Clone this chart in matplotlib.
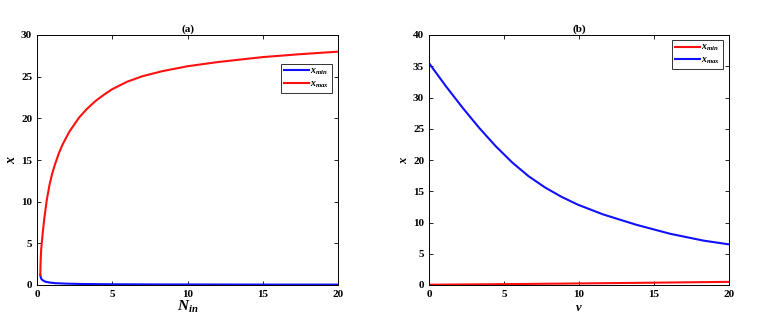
import matplotlib
matplotlib.use("Agg")
import matplotlib.pyplot as plt
import numpy as np

plt.rcParams['font.family'] = 'Liberation Serif'
plt.rcParams['mathtext.fontset'] = 'custom'
plt.rcParams['mathtext.it'] = 'Liberation Serif:italic:bold'
plt.rcParams['mathtext.rm'] = 'Liberation Serif:bold'

# Panel (a): x_min / x_max vs N_in
n_in_max = [0.22, 0.23, 0.25, 0.28, 0.33, 0.4, 0.5, 0.65, 0.83, 1.0, 1.2, 1.45, 1.71, 2.15, 2.8,
            3.3, 3.9, 4.5, 5.0, 6.0, 7.0, 8.3, 10.0, 12.0, 15.0, 17.5, 20.0]
xmax_a = [1.2, 2.2, 3.3, 4.3, 5.3, 6.6, 8.2, 10.2, 12.0, 13.3, 14.5, 15.8, 16.9, 18.4, 20.1,
          21.1, 22.1, 22.9, 23.5, 24.4, 25.05, 25.65, 26.25, 26.75, 27.35, 27.7, 28.0]
n_in_min = [0.22, 0.25, 0.3, 0.4, 0.55, 0.83, 1.2, 2.0, 3.0, 5.0, 8.0, 12.0, 16.0, 20.0]
xmin_a = [1.2, 0.9, 0.7, 0.55, 0.4, 0.3, 0.22, 0.16, 0.12, 0.09, 0.07, 0.06, 0.05, 0.05]

# Panel (b): x_min / x_max vs v
v = [0, 1.16, 2.26, 3.36, 4.45, 5.55, 6.64, 7.74, 8.84, 9.93, 11.6, 13.8, 16.07, 18.3, 20.0]
xmax_b = [35.5, 31.7, 28.3, 25.1, 22.2, 19.6, 17.4, 15.6, 14.1, 12.85, 11.3, 9.65, 8.2, 7.1, 6.5]
xmin_b = [0.05, 0.07, 0.09, 0.11, 0.13, 0.15, 0.17, 0.2, 0.22, 0.25, 0.29, 0.34, 0.4, 0.46, 0.5]

fig = plt.figure(figsize=(7.6, 3.21), dpi=100)
ax1 = fig.add_axes([37/760, 36/321, 301/760, 250/321])
ax2 = fig.add_axes([429/760, 36/321, 300/760, 250/321])

def style(ax):
    ax.tick_params(direction='in', top=True, right=True, labelsize=8, length=3, width=0.6)
    for lab in ax.get_xticklabels() + ax.get_yticklabels():
        lab.set_fontweight('bold')
    for s in ax.spines.values():
        s.set_linewidth(0.7)

ax1.plot(n_in_min, xmin_a, color='#1010ff', lw=1.5, label=r'$x_{min}$')
ax1.plot(n_in_max, xmax_a, color='#ff1010', lw=1.5, label=r'$x_{max}$')
ax1.set_xlim(0, 20)
ax1.set_ylim(0, 30)
ax1.set_xticks([0, 5, 10, 15, 20])
ax1.set_yticks([0, 5, 10, 15, 20, 25, 30])
ax1.set_xlabel(r'$N_{in}$', fontsize=11, labelpad=0)
ax1.set_ylabel(r'$x$', fontsize=10, labelpad=2)
ax1.set_title('(a)', fontsize=8, fontweight='bold', pad=2)
style(ax1)
leg1 = ax1.legend(loc='upper right', bbox_to_anchor=(0.98, 0.885), fontsize=7,
                  fancybox=False, edgecolor='black', handlelength=2.6,
                  borderpad=0.3, labelspacing=0.2, handletextpad=0.1, borderaxespad=0)
leg1.get_frame().set_linewidth(0.7)

ax2.plot(v, xmin_b, color='#ff1010', lw=1.5, label=r'$x_{min}$')
ax2.plot(v, xmax_b, color='#1010ff', lw=1.5, label=r'$x_{max}$')
ax2.set_xlim(0, 20)
ax2.set_ylim(0, 40)
ax2.set_xticks([0, 5, 10, 15, 20])
ax2.set_yticks([0, 5, 10, 15, 20, 25, 30, 35, 40])
ax2.set_xlabel(r'$v$', fontsize=9, labelpad=2)
ax2.set_ylabel(r'$x$', fontsize=9, labelpad=2)
ax2.set_title('(b)', fontsize=8, fontweight='bold', pad=2)
style(ax2)
leg2 = ax2.legend(loc='upper right', bbox_to_anchor=(0.98, 0.98), fontsize=7,
                  fancybox=False, edgecolor='black', handlelength=2.6,
                  borderpad=0.3, labelspacing=0.2, handletextpad=0.1, borderaxespad=0)
leg2.get_frame().set_linewidth(0.7)

fig.savefig('out.png', dpi=100)
